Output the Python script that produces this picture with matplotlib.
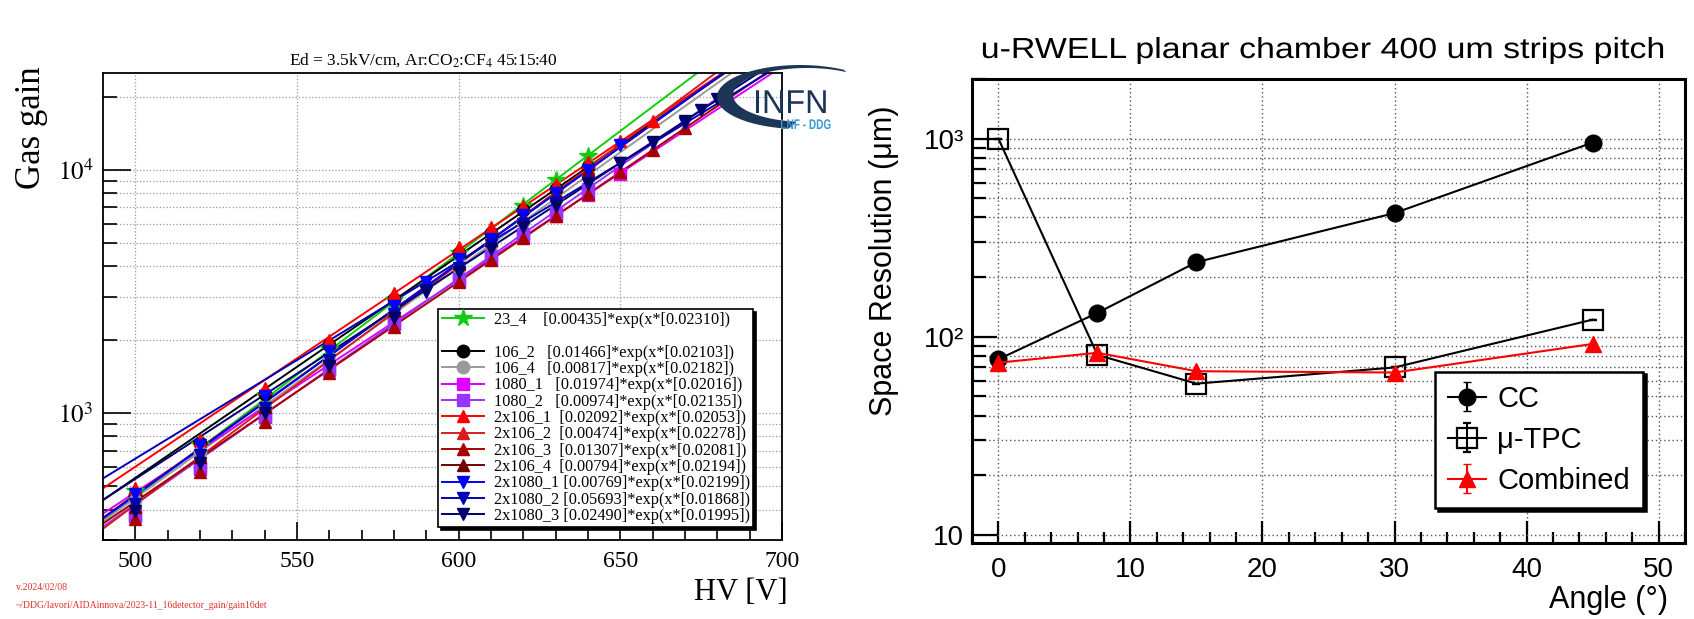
import numpy as np
import matplotlib.pyplot as plt
from matplotlib.lines import Line2D
from matplotlib.patches import Polygon, PathPatch
from matplotlib.textpath import TextPath
from matplotlib.font_manager import FontProperties
from matplotlib.transforms import Affine2D, IdentityTransform
from matplotlib.ticker import (MultipleLocator, FixedLocator, FixedFormatter,
                               LogLocator, NullFormatter)

plt.rcParams['mathtext.fontset'] = 'stix'

W, H = 1694, 619

# ---- gain vs HV, 12 detectors ----
names = ['23_4', '106_2', '106_4', '1080_1', '1080_2',
         '2x106_1', '2x106_2', '2x106_3', '2x106_4',
         '2x1080_1', '2x1080_2', '2x1080_3']
fit_a = [0.00435, 0.01466, 0.00817, 0.01974, 0.00974,
         0.02092, 0.00474, 0.01307, 0.00794,
         0.00769, 0.05693, 0.02490]
fit_b = [0.02310, 0.02103, 0.02182, 0.02016, 0.02135,
         0.02053, 0.02278, 0.02081, 0.02194,
         0.02199, 0.01868, 0.01995]
labels = ['23_4    [0.00435]*exp(x*[0.02310])',
          '106_2   [0.01466]*exp(x*[0.02103])',
          '106_4   [0.00817]*exp(x*[0.02182])',
          '1080_1   [0.01974]*exp(x*[0.02016])',
          '1080_2   [0.00974]*exp(x*[0.02135])',
          '2x106_1  [0.02092]*exp(x*[0.02053])',
          '2x106_2  [0.00474]*exp(x*[0.02278])',
          '2x106_3  [0.01307]*exp(x*[0.02081])',
          '2x106_4  [0.00794]*exp(x*[0.02194])',
          '2x1080_1 [0.00769]*exp(x*[0.02199])',
          '2x1080_2 [0.05693]*exp(x*[0.01868])',
          '2x1080_3 [0.02490]*exp(x*[0.01995])']
colors = ['#11cc11', '#000000', '#9a9a9a', '#dd00ff', '#9933ff',
          '#ff0000', '#d81c1c', '#a80000', '#740000',
          '#0000ff', '#0000b4', '#00006e']
markers = ['*', 'o', 'o', 's', 's', '^', '^', '^', '^', 'v', 'v', 'v']

hv = {
    '23_4':     [500, 520, 540, 560, 580, 600, 620, 630, 640],
    '106_2':    [500, 520, 540, 560, 580, 600, 610, 620, 630, 640],
    '106_4':    [500, 520, 540, 560, 580, 600, 610, 620, 630, 640],
    '1080_1':   [500, 520, 540, 560, 580, 600, 610, 620, 630, 640, 650],
    '1080_2':   [500, 520, 540, 560, 580, 600, 610, 620, 630, 640],
    '2x106_1':  [500, 520, 540, 560, 580, 600, 610, 620, 630, 640, 650, 660],
    '2x106_2':  [500, 520, 540, 560, 580, 600, 610, 620, 630, 640],
    '2x106_3':  [500, 520, 540, 560, 580, 600, 610, 620, 630, 640, 650, 660, 670],
    '2x106_4':  [500, 520, 540, 560, 580, 600, 610, 620, 630, 640],
    '2x1080_1': [500, 520, 540, 560, 580, 590, 600, 610, 620, 630, 640, 650],
    '2x1080_2': [500, 520, 540, 560, 580, 590, 600, 610, 620, 630, 640, 650, 660, 670],
    '2x1080_3': [500, 520, 540, 560, 580, 590, 600, 610, 620, 630, 640, 650, 660, 670, 675, 680],
}
gain = {
    '23_4':     [475, 740, 1170, 1830, 2900, 4550, 7100, 9050, 11400],
    '106_2':    [460, 750, 1200, 1900, 2950, 4550, 5500, 6800, 8350, 10300],
    '106_4':    [440, 690, 1060, 1650, 2560, 3950, 4900, 6100, 7600, 9450],
    '1080_1':   [375, 590, 960, 1500, 2330, 3500, 4300, 5300, 6450, 7900, 9650],
    '1080_2':   [380, 600, 970, 1510, 2320, 3560, 4400, 5450, 6700, 8300],
    '2x106_1':  [490, 770, 1260, 2000, 3100, 4800, 5800, 7100, 8700, 10800, 13100, 15900],
    '2x106_2':  [430, 680, 1080, 1680, 2620, 4100, 5150, 6450, 8100, 10150],
    '2x106_3':  [365, 570, 920, 1460, 2250, 3450, 4250, 5250, 6450, 7950, 9750, 12000, 14900],
    '2x106_4':  [410, 660, 1060, 1700, 2650, 4150, 5150, 6400, 8000, 9950],
    '2x1080_1': [465, 740, 1170, 1800, 2750, 3450, 4300, 5200, 6500, 8050, 10000, 12600],
    '2x1080_2': [420, 670, 1050, 1650, 2550, 3200, 3950, 4900, 6000, 7300, 8850, 10700, 12900, 15500],
    '2x1080_3': [395, 620, 1000, 1560, 2450, 3150, 3800, 4700, 5800, 7100, 8700, 10700, 13000, 15900, 17600, 19500],
}

# ---- space resolution vs track angle ----
angle = [0, 7.5, 15, 30, 45]
res_cc = [77, 132, 238, 421, 955]
res_tpc = [1000, 81, 58, 70, 122]
res_comb = [74, 83, 67, 66, 92]


fig = plt.figure(figsize=(W / 100, H / 100), dpi=100)


def px_axes(l, t, r, b):
    return fig.add_axes([l / W, 1 - b / H, (r - l) / W, (b - t) / H])


def fx(x):
    return x / W


def fy(y):
    return 1 - y / H


def path_text(x, y, s, size_px, sx=1.0, family='Liberation Sans', color='k',
              ha='center', va='baseline', weight='normal'):
    # text as an outline, so it can be stretched horizontally
    tp = TextPath((0, 0), s, size=size_px, prop=FontProperties(family=family, weight=weight))
    ext = tp.get_extents()
    ox = {'left': ext.x0, 'center': (ext.x0 + ext.x1) / 2, 'right': ext.x1}[ha]
    oy = {'bottom': ext.y0, 'center': (ext.y0 + ext.y1) / 2, 'top': ext.y1, 'baseline': 0}[va]
    tr = Affine2D().translate(-ox, -oy).scale(sx, 1).translate(x, H - y)
    fig.add_artist(PathPatch(tr.transform_path(tp), facecolor=color, lw=0,
                             transform=IdentityTransform(), zorder=5))


# ================= left: gas gain =================
ax1 = px_axes(103, 73, 782, 540)
serif = 'Liberation Serif'

xfit = np.linspace(490, 700, 400)
handles = []
for i, n in enumerate(names):
    ms = 13 if markers[i] == '*' else 9
    ax1.plot(xfit, fit_a[i] * np.exp(fit_b[i] * xfit), color=colors[i], lw=1.4, zorder=2)
    ax1.plot(hv[n], gain[n], ls='none', marker=markers[i], ms=ms,
             color=colors[i], mec=colors[i], zorder=3 + i * 0.01)
    handles.append(Line2D([], [], color=colors[i], lw=1.4, marker=markers[i], ms=ms))

ax1.set_xlim(490, 700)
ax1.set_yscale('log')
ax1.set_ylim(300, 25000)
ax1.xaxis.set_major_locator(MultipleLocator(50))
ax1.xaxis.set_minor_locator(MultipleLocator(10))
ax1.yaxis.set_major_locator(FixedLocator([1e3, 1e4]))
ax1.yaxis.set_major_formatter(FixedFormatter(['$10^{3}$', '$10^{4}$']))
ax1.yaxis.set_minor_locator(LogLocator(base=10, subs=np.arange(2, 10)))
ax1.yaxis.set_minor_formatter(NullFormatter())
ax1.tick_params(axis='both', which='both', direction='in', top=False, right=False, width=1.2)
ax1.tick_params(axis='y', which='major', length=20, pad=7, labelsize=18)
ax1.tick_params(axis='y', which='minor', length=10)
ax1.tick_params(axis='x', which='major', length=13, pad=8, labelsize=17)
ax1.tick_params(axis='x', which='minor', length=7)
for lbl in ax1.get_xticklabels() + ax1.get_yticklabels():
    lbl.set_family(serif)
ax1.grid(True, axis='x', which='major', ls=':', color='#999999', lw=0.9)
ax1.grid(True, axis='y', which='both', ls=':', color='#999999', lw=0.9)
for s in ax1.spines.values():
    s.set_linewidth(1.3)

leg_handles = [handles[0], Line2D([], [], color='none')] + handles[1:]
leg_labels = [labels[0], ' '] + labels[1:]
leg1 = ax1.legend(leg_handles, leg_labels, loc='upper left',
                  bbox_to_anchor=(0.494, 0.495), frameon=True, fancybox=False,
                  prop={'family': serif, 'size': 11.7}, labelspacing=0.02,
                  handlelength=2.6, handletextpad=0.6, borderpad=0.2,
                  borderaxespad=0, shadow={'color': 'black', 'alpha': 1, 'ox': 2, 'oy': -2})
leg1.get_frame().set_edgecolor('black')
leg1.get_frame().set_linewidth(1.2)

fig.text(fx(423), fy(60), 'Ed = 3.5kV/cm, Ar:CO$_2$:CF$_4$ 45:15:40',
         ha='center', va='center', family=serif, fontsize=12.5)
fig.text(fx(32), fy(128), 'Gas gain', rotation=90, ha='center', va='center',
         family=serif, fontsize=25)
fig.text(fx(788), fy(593), 'HV [V]', ha='right', va='center', family=serif, fontsize=22)
fig.text(fx(16), fy(587), 'v.2024/02/08', color='#e0302a', family=serif,
         fontsize=7, va='center')
fig.text(fx(16), fy(605), '~/DDG/lavori/AIDAinnova/2023-11_16detector_gain/gain16det',
         color='#e0302a', family=serif, fontsize=7, va='center')

# INFN logo: crescent plus lettering
th_o = np.radians(np.linspace(58, 262, 80))
th_i = np.radians(np.linspace(262, 58, 80))
outer = np.c_[800 + 83 * np.cos(th_o), 97 - 32 * np.sin(th_o)]
inner = np.c_[807 + 74 * np.cos(th_i), 95 - 27 * np.sin(th_i)]
pts = np.vstack([outer, inner])
crescent = Polygon(np.c_[fx(pts[:, 0]), fy(pts[:, 1])], closed=True,
                   transform=fig.transFigure, facecolor='#1d3557', edgecolor='none')
fig.add_artist(crescent)
path_text(756, 113, 'INFN', 33, sx=0.98, color='#1d3557', ha='left')
path_text(781, 129, 'LNF - DDG', 14, sx=0.72, color='#3a9ad6', ha='left', weight='bold')

# ================= right: space resolution =================
ax2 = px_axes(972, 79, 1685, 543)
sans = 'Liberation Sans'

e_cc = ax2.errorbar(angle, res_cc, yerr=0, color='black', lw=1.5, marker='o', ms=12,
                    capsize=3, zorder=3)
e_tpc = ax2.errorbar(angle, res_tpc, yerr=0, color='black', lw=1.5, marker='s', ms=14,
                     mfc='none', mew=1.6, capsize=3, zorder=3)
e_comb = ax2.errorbar(angle, res_comb, yerr=0, color='#ff0000', lw=1.5, marker='^',
                      ms=11, capsize=3, zorder=4)

ax2.set_xlim(-2, 52)
ax2.set_yscale('log')
ax2.set_ylim(9.1, 2000)
ax2.xaxis.set_major_locator(MultipleLocator(10))
ax2.xaxis.set_minor_locator(MultipleLocator(2))
ax2.yaxis.set_major_locator(FixedLocator([10, 100, 1000]))
ax2.yaxis.set_major_formatter(FixedFormatter(['10', '10²', '10³']))
ax2.yaxis.set_minor_locator(LogLocator(base=10, subs=np.arange(2, 10)))
ax2.yaxis.set_minor_formatter(NullFormatter())
ax2.tick_params(axis='both', which='both', direction='in', top=False, right=False, width=1.6)
ax2.tick_params(axis='y', which='major', length=18, pad=6, labelsize=20)
ax2.tick_params(axis='y', which='minor', length=10)
ax2.tick_params(axis='x', which='major', length=16, pad=10, labelsize=20)
ax2.tick_params(axis='x', which='minor', length=8)
for lbl in ax2.get_xticklabels() + ax2.get_yticklabels():
    lbl.set_family(sans)
ax2.grid(True, axis='x', which='major', ls=(0, (1, 2)), color='#555555', lw=1.0)
ax2.grid(True, axis='y', which='both', ls=(0, (1, 2)), color='#555555', lw=1.0)
for s in ax2.spines.values():
    s.set_linewidth(2.2)

leg2 = ax2.legend([e_cc, e_tpc, e_comb], ['CC', 'μ-TPC', 'Combined'],
                  loc='lower left', bbox_to_anchor=(0.649, 0.075), frameon=True,
                  fancybox=False, prop={'family': sans, 'size': 21},
                  handlelength=1.3, handletextpad=0.4, labelspacing=0.45,
                  borderpad=0.45, borderaxespad=0,
                  shadow={'color': 'black', 'alpha': 1, 'ox': 2, 'oy': -2})
leg2.get_frame().set_edgecolor('black')
leg2.get_frame().set_linewidth(1.8)

path_text(1323, 58, 'u-RWELL planar chamber 400 um strips pitch', 29, sx=1.17, ha='center')
fig.text(fx(884), fy(261), 'Space Resolution (μm)', rotation=90, ha='center',
         va='center', family=sans, fontsize=22)
fig.text(fx(1668), fy(608), 'Angle (°)', ha='right', va='baseline', family=sans, fontsize=22)

fig.savefig('out.png', dpi=100)
